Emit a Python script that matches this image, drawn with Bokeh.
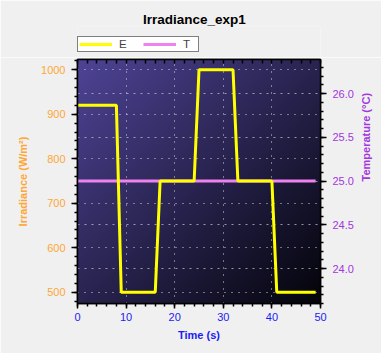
import numpy as np
from bokeh.plotting import figure
from bokeh.layouts import column
from bokeh.models import (Range1d, LinearAxis, SingleIntervalTicker, FixedTicker, Grid, Legend,
                          LegendItem, PrintfTickFormatter)
from bokeh.embed import file_html
from bokeh.resources import INLINE

# ---- data ----
title_text = "Irradiance_exp1"
time_s = [0, 8, 9, 16, 17, 24, 25, 32, 33, 40, 41, 49]
irradiance_E = [920, 920, 500, 500, 750, 750, 1000, 1000, 750, 750, 500, 500]
temp_time_s = [0, 49]
temperature_T = [25.0, 25.0]
series_names = ["E", "T"]
x_label = "Time (s)"
y_left_label = "Irradiance (W/m²)"
y_right_label = "Temperature  (°C)"

x_lo, x_hi = 0, 50
yl_lo, yl_hi = 474.6, 1023
yr_lo, yr_hi = 23.6, 26.39

FONT = "Liberation Sans"
ORANGE = "#ffa636"
BLUE = "#1c1cf2"
PURPLE = "#a236e0"
BG = "#f0f0f0"
E_COLOR = "#ffff00"
T_COLOR = "violet"

W = 381
HEAD_H = 57
ML, MR = 77, 61
FW, FH = 243, 244

# ---------- header (title + legend); its frame is aligned with the main frame ----------
h = figure(width=W, height=HEAD_H, min_border=0, min_border_top=26,
           x_range=Range1d(0, 1), y_range=Range1d(0, 1),
           x_axis_location=None, y_axis_location=None,
           output_backend="svg", toolbar_location=None,
           background_fill_color=BG, border_fill_color=BG, outline_line_color=None)
h.grid.visible = False
h.title.text = title_text
h.title.align = "left"
h.title.offset = 65.5
h.title.standoff = 0
h.title.text_font = FONT
h.title.text_font_size = "13.5px"
h.title.text_font_style = "bold"
h.title.text_color = "black"
# legend proxies (outside the header's visible range)
pe = h.line(x=[-1, -2], y=[-1, -2], line_color=E_COLOR, line_width=3)
pt = h.line(x=[-1, -2], y=[-1, -2], line_color=T_COLOR, line_width=3)
legend = Legend(items=[LegendItem(label=series_names[0], renderers=[pe]),
                       LegendItem(label=series_names[1], renderers=[pt])],
                orientation="horizontal", location=(0, 5),
                padding=1, spacing=10, margin=0, label_standoff=7,
                glyph_width=33, glyph_height=10, label_width=14, label_height=10,
                label_text_font=FONT, label_text_font_size="11.5px",
                border_line_color="black", border_line_width=1,
                background_fill_color="white", background_fill_alpha=1)
h.add_layout(legend)

# ---------- main plot ----------
p = figure(frame_width=FW, frame_height=FH,
           min_border_left=ML, min_border_right=MR, min_border_top=2, min_border_bottom=50,
           x_range=Range1d(x_lo, x_hi), y_range=Range1d(yl_lo, yl_hi),
           output_backend="svg", toolbar_location=None,
           background_fill_color="#1e1a3c", border_fill_color=BG)
p.extra_y_ranges = {"temp": Range1d(yr_lo, yr_hi)}

# gradient background
N = 96
gx, gy = np.meshgrid(np.linspace(0, 1, N), np.linspace(0, 1, N))
s = (gx + (1 - gy)) / 2.0
c0 = np.array([78, 68, 150])
c1 = np.array([4, 4, 10])
img = np.empty((N, N), dtype=np.uint32)
view = img.view(dtype=np.uint8).reshape((N, N, 4))
for k in range(3):
    view[:, :, k] = (c0[k] * (1 - s) + c1[k] * s).astype(np.uint8)
view[:, :, 3] = 255
p.image_rgba(image=[img], x=x_lo, y=yl_lo, dw=x_hi - x_lo, dh=yl_hi - yl_lo, level="image")

p.outline_line_color = "black"
p.outline_line_width = 1.5

# x axis
xt = SingleIntervalTicker(interval=10, num_minor_ticks=5)
xa = p.xaxis[0]
xa.ticker = xt
xa.axis_label = x_label
xa.axis_label_text_font = FONT
xa.axis_label_text_font_size = "11px"
xa.axis_label_text_font_style = "bold"
xa.axis_label_text_color = BLUE
xa.axis_label_standoff = 5
xa.major_label_text_font = FONT
xa.major_label_text_font_size = "11px"
xa.major_label_text_color = BLUE
xa.major_label_standoff = 4
xa.axis_line_width = 1.5
xa.major_tick_out = 5
xa.major_tick_in = 0
xa.minor_tick_out = 3
xa.minor_tick_in = 0
xa.major_tick_line_width = 1.5
xa.minor_tick_line_width = 1.5

# top edge: inward ticks only
ta = LinearAxis(ticker=FixedTicker(ticks=[], minor_ticks=list(range(x_lo, x_hi + 1, 2))),
                minor_tick_in=4, minor_tick_out=0, major_tick_in=0, major_tick_out=0,
                axis_line_width=1.5, minor_tick_line_width=1.5, major_label_standoff=0)
p.add_layout(ta, "above")

# left axis
lt = SingleIntervalTicker(interval=100, num_minor_ticks=5)
la = p.yaxis[0]
la.ticker = lt
la.axis_label = y_left_label
la.axis_label_text_font = FONT
la.axis_label_text_font_size = "11px"
la.axis_label_text_font_style = "bold"
la.axis_label_text_color = ORANGE
la.axis_label_standoff = 9
la.major_label_text_font = FONT
la.major_label_text_font_size = "11px"
la.major_label_text_color = ORANGE
la.major_label_standoff = 6
la.axis_line_width = 1.5
la.major_tick_out = 6
la.major_tick_in = 0
la.minor_tick_out = 3
la.minor_tick_in = 0
la.major_tick_line_width = 1.5
la.minor_tick_line_width = 1.5

# right axis
rt = SingleIntervalTicker(interval=0.5, num_minor_ticks=5)
ra = LinearAxis(y_range_name="temp", ticker=rt, formatter=PrintfTickFormatter(format="%.1f"))
ra.major_label_text_font = FONT
ra.major_label_text_font_size = "11px"
ra.major_label_text_color = PURPLE
ra.major_label_standoff = 6
ra.axis_line_width = 1.5
ra.major_tick_out = 6
ra.major_tick_in = 0
ra.minor_tick_out = 3
ra.minor_tick_in = 0
ra.major_tick_line_width = 1.5
ra.minor_tick_line_width = 1.5
ra.axis_label = y_right_label
ra.axis_label_text_font = FONT
ra.axis_label_text_font_size = "11px"
ra.axis_label_text_font_style = "bold"
ra.axis_label_text_color = PURPLE
ra.axis_label_standoff = 9
if "axis_label_orientation" in LinearAxis.properties():
    ra.axis_label_orientation = np.pi / 2
p.add_layout(ra, "right")

# grids
p.xgrid.ticker = xt
p.xgrid.grid_line_color = "#e8e8e8"
p.xgrid.grid_line_dash = "1 6"
p.xgrid.grid_line_alpha = 0.9
p.ygrid.ticker = lt
p.ygrid.grid_line_color = "#e8e8e8"
p.ygrid.grid_line_dash = "1 6"
p.ygrid.grid_line_alpha = 0.9
rg = Grid(dimension=1, y_range_name="temp", ticker=rt, grid_line_color="#b8b8c8",
          grid_line_dash="2 5", grid_line_alpha=0.8)
p.add_layout(rg)

# series (T drawn first, E on top)
p.line(temp_time_s, temperature_T, y_range_name="temp", line_color=T_COLOR, line_width=3)
p.line(time_s, irradiance_E, line_color=E_COLOR, line_width=3)

layout = column(h, p, spacing=0)
open("out.html", "w").write(file_html(layout, INLINE))
